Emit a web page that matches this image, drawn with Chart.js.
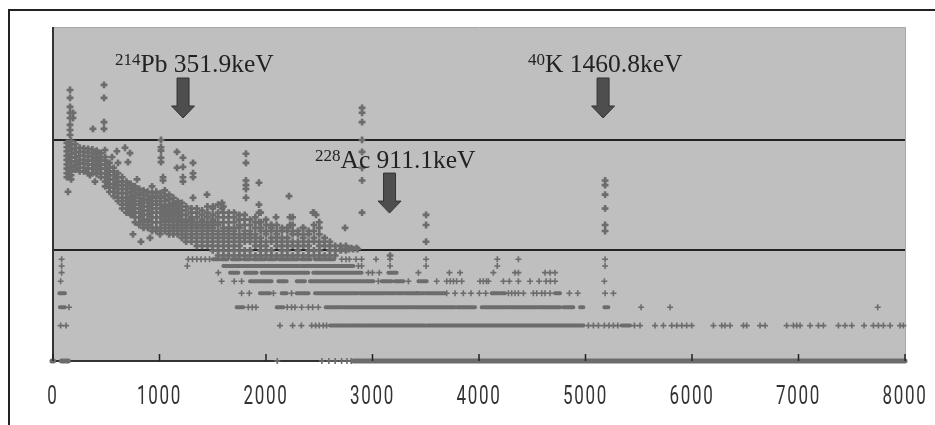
<!DOCTYPE html>
<html>
<head>
<meta charset="utf-8">
<title>gamma spectrum</title>
<script src="https://cdn.jsdelivr.net/npm/chart.js@4/dist/chart.umd.min.js"></script>
<style>
html, body { margin: 0; padding: 0; background: #fff; overflow: hidden; }
#frame { position: absolute; left: 8px; top: 9px; right: 0; bottom: 0; border-left: 2px solid #222; border-top: 2px solid #222; }
#chart { position: absolute; left: 0; top: 0; }
</style>
</head>
<body>
<canvas id="chart" width="935" height="425"></canvas>
<div id="frame"></div>
<script>
//axis
var xTicks = [0, 1000, 2000, 3000, 4000, 5000, 6000, 7000, 8000];
var gridValues = [10, 100];

//dense part of the spectrum, [channel, [counts...]]
var cloudColumns = [
    [130, [94, 86, 79, 72, 66, 60, 55, 50, 46]],
    [170, [98, 90, 82, 75, 69, 63, 57, 52, 48, 44]],
    [210, [92, 84, 77, 70, 64, 59, 54]],
    [250, [85, 78, 72, 66, 61, 56, 52]],
    [290, [84, 78, 72, 66, 61, 56, 52]],
    [330, [83, 77, 71, 65, 60, 55, 50]],
    [370, [82, 76, 70, 65, 60, 55, 50]],
    [410, [80, 74, 68, 63, 58, 53, 49]],
    [450, [76, 70, 65, 60, 55, 50, 46]],
    [490, [70, 65, 60, 55, 50, 46, 42, 38]],
    [530, [62, 57, 52, 48, 44, 40, 37, 34]],
    [570, [56, 52, 48, 44, 40, 37, 34, 31]],
    [610, [50, 46, 42, 39, 36, 33, 30, 28]],
    [650, [46, 42, 39, 36, 33, 30, 28, 26, 24]],
    [690, [42, 39, 36, 33, 30, 28, 26, 24, 22]],
    [730, [40, 37, 34, 31, 29, 27, 25, 23, 21]],
    [770, [38, 35, 32, 30, 28, 26, 24, 22, 20, 18]],
    [810, [36, 33, 30, 28, 26, 24, 22, 20, 18, 17]],
    [850, [35, 32, 29, 27, 25, 23, 21, 19, 18, 16]],
    [890, [34, 31, 29, 27, 25, 23, 21, 19, 17, 16]],
    [930, [33, 30, 28, 26, 24, 22, 20, 18, 16, 15]],
    [970, [34, 31, 28, 26, 24, 22, 20, 18, 16, 15]],
    [1010, [33, 30, 28, 26, 24, 22, 20, 18, 16, 15]],
    [1050, [35, 31, 28, 25, 23, 21, 19, 17, 15]],
    [1090, [32, 29, 26, 24, 22, 20, 18, 16, 15, 14]],
    [1130, [30, 27, 25, 23, 21, 19, 17, 16, 15, 14]],
    [1170, [28, 26, 24, 22, 20, 18, 17, 16, 15, 14]],
    [1210, [27, 25, 23, 21, 19, 18, 16, 15, 14, 13]],
    [1250, [25, 23, 21, 19, 18, 17, 16, 15, 14, 13, 12]],
    [1300, [24, 22, 20, 19, 18, 17, 16, 15, 14, 13, 12]],
    [1350, [24, 22, 20, 18, 17, 16, 15, 14, 13, 12, 11]],
    [1400, [23, 21, 19, 18, 17, 16, 15, 14, 13, 12, 11]],
    [1450, [25, 22, 20, 18, 17, 16, 15, 14, 13, 12, 11]],
    [1500, [24, 21, 19, 18, 17, 16, 15, 14, 13, 12, 11, 10]],
    [1550, [26, 22, 20, 18, 17, 15, 14, 13, 12, 11, 10, 9]],
    [1600, [25, 22, 20, 18, 16, 15, 14, 13, 12, 11, 10, 9]],
    [1650, [22, 20, 18, 16, 15, 14, 13, 12, 11, 10, 9]],
    [1700, [22, 20, 18, 16, 15, 14, 13, 12, 11, 10, 9]],
    [1750, [21, 19, 17, 16, 14, 13, 12, 11, 10, 9]],
    [1800, [21, 19, 17, 15, 14, 13, 12, 10, 9]],
    [1850, [19, 17, 15, 14, 13, 12, 10, 9]],
    [1900, [20, 18, 16, 14, 13, 12, 11, 9]],
    [1950, [22, 18, 16, 15, 13, 12, 11, 10, 9]],
    [2000, [19, 17, 15, 14, 12, 11, 10, 9]],
    [2050, [17, 16, 15, 13, 12, 10, 9]],
    [2100, [17, 15, 14, 13, 12, 11, 9]],
    [2150, [16, 15, 13, 12, 11, 10, 9]],
    [2200, [16, 15, 13, 12, 11, 10, 9]],
    [2250, [20, 17, 15, 14, 12, 11, 9]],
    [2300, [15, 14, 12, 11, 10, 9]],
    [2350, [16, 14, 13, 12, 11, 9]],
    [2400, [15, 14, 12, 11, 10, 9]],
    [2450, [22, 17, 15, 13, 12, 10, 9]],
    [2500, [18, 16, 14, 12, 11, 10, 9]],
    [2550, [13, 12, 11, 9]],
    [2600, [12, 11, 10, 9]],
    [2650, [11, 10, 9]],
    [2700, [11, 10]],
    [2750, [11, 10]],
    [2800, [10.5]],
    [2850, [10.5]]
];

//single points above the rows
var sparseX = [160, 160, 160, 160, 160, 160, 160, 160, 188, 188, 479, 479, 479, 479, 375, 1014, 1014, 1014, 1014, 1014, 1033, 1033,
    1164, 1164, 1220, 1220, 1220, 1220, 1315, 1315, 1315, 1446, 1315, 676, 723, 600, 554, 610, 704, 789, 930, 488, 347, 394, 141,
    751, 826, 911, 1005, 1812, 1812, 1812, 1812, 1812, 1812, 1934, 1934, 1934, 1934, 2216, 2094, 2441, 2470, 2742,
    2902, 2902, 2902, 2902, 2902, 2902, 2902, 2902, 1587, 1587, 1502, 2225, 2225, 2347, 2047,
    3503, 3503, 3503, 5184, 5184, 5184, 5184, 5184, 5184, 3165, 2710, 2750, 2780, 2820, 2860];
var sparseY = [283, 240, 199, 176, 158, 137, 123, 111, 176, 158, 315, 240, 145, 126, 126, 100, 86, 80, 69, 63, 46, 43,
    78, 56, 69, 57, 46, 42, 62, 50, 46, 32, 30, 85, 76, 79, 70, 62, 63, 44, 38, 81, 48, 42, 34,
    14, 12, 13, 14, 75, 62, 43, 39, 36, 30, 41, 26, 22, 18, 31, 20, 22, 21, 16,
    195, 176, 145, 100, 78, 56, 43, 22, 27, 24, 25, 20, 17, 16, 17,
    21, 17, 12, 43, 39, 32, 24, 17, 15, 9, 10.3, 10.3, 10.3, 10.3, 10.3];

//low count rows
var rowLevels = [1, 2.09, 3.06, 4.1, 5.26, 6.3, 7.24, 8.33];
//continuous stretches of each row [from, to]
var rowBands = [
    [[-10, 5], [80, 144], [2820, 8000]],
    [[2601, 2726], [2742, 2789], [2804, 2929], [2945, 3493], [3515, 4980], [5340, 5418]],
    [[65, 112], [1724, 1787], [2100, 2163], [2560, 2710], [2726, 3352], [3367, 3775], [3796, 3963], [4025, 4292], [4307, 4542], [4558, 4761], [4792, 4886], [4949, 4980], [5177, 5215]],
    [[59, 112], [1943, 2037], [2147, 2194], [2288, 2400], [2460, 2867], [2883, 3118], [3133, 3211], [3227, 3290], [3305, 3415], [3421, 3478], [3493, 3681], [4119, 4182], [4197, 4244], [4714, 4761]],
    [[1850, 1928], [1943, 2053], [2116, 2194], [2288, 2366], [2413, 2898], [2915, 3008], [3086, 3180], [3211, 3290], [3431, 3509]],
    [[1662, 1740], [1803, 1912], [1959, 2397], [2444, 2898], [3149, 3227]],
    [[1599, 1700], [1710, 2000], [2010, 2300], [2320, 2600], [2610, 2820]],
    [[1500, 1560], [1580, 1640], [1680, 1760], [1790, 1850], [1880, 1990], [2020, 2090], [2120, 2300], [2330, 2420], [2460, 2640]]
];
//isolated channels of each row
var rowPoints = [
    [2106, 2525, 2590, 2650, 2710, 2760, 2800],
    [72, 122, 2131, 2250, 2332, 2429, 2466, 2500, 2538, 2569, 5027, 5074, 5121, 5177, 5221, 5262, 5303, 5459, 5512, 5653, 5731, 5810, 5857, 5904, 5950, 5997, 6201, 6279, 6310, 6357, 6483, 6514, 6639, 6686, 6889, 6952, 6983, 7015, 7109, 7187, 7234, 7375, 7437, 7500, 7616, 7703, 7750, 7797, 7860, 7954, 7985],
    [150, 1834, 1871, 1906, 2200, 2240, 2272, 2335, 2398, 2438, 2491, 5522, 5794, 7744],
    [1771, 1843, 2070, 2240, 3697, 3775, 3853, 3925, 4003, 4063, 4276, 4307, 4338, 4370, 4417, 4510, 4542, 4589, 4620, 4667, 4849, 4927, 5184, 5262],
    [72, 1583, 1702, 1771, 3055, 3337, 3603, 3697, 3730, 3760, 3790, 3838, 4010, 4040, 4070, 4088, 4229, 4285, 4370, 4479, 4564, 4630, 4670, 4714, 5177],
    [81, 1552, 2961, 2999, 3064, 3431, 3722, 3822, 4135, 4338, 4370, 4620, 4667, 4714],
    [81, 1261, 2867, 2898, 3165, 3503, 4172, 5184],
    [81, 1270, 1310, 1350, 1390, 1430, 1470, 2711, 2751, 2783, 2845, 2898, 3033, 3165, 3503, 4172, 4370, 5184]
];

//labels and arrows
var noteMass = ['214', '228', '40'];
var noteText = ['Pb 351.9keV', 'Ac 911.1keV', 'K 1460.8keV'];
var noteX = [582, 2460, 4460];
var noteY = [412, 55.8, 412];
var arrowX = [1221, 3160, 5165];
var arrowY = [158, 21.8, 158];

var markColor = '#6c6c6c';

//組資料
function cloudData() {
    var out = [];
    cloudColumns.forEach(function (col) {
        col[1].forEach(function (v) {
            out.push({x: col[0], y: v});
        });
    });
    sparseX.forEach(function (x, i) {
        out.push({x: x, y: sparseY[i]});
    });
    return out;
}

function buildDatasets() {
    var sets = [{
        data: cloudData(),
        showLine: false,
        pointStyle: 'cross',
        pointRadius: 3.4,
        borderColor: markColor,
        pointBorderWidth: 2.6,
        clip: false
    }];
    rowLevels.forEach(function (level, i) {
        var line = [];
        rowBands[i].forEach(function (b) {
            line.push({x: b[0], y: level}, {x: b[1], y: level}, {x: b[1], y: null});
        });
        sets.push({
            data: line,
            showLine: true,
            spanGaps: false,
            pointRadius: 0,
            borderColor: markColor,
            borderWidth: i == 0 ? 5 : 4,
            borderCapStyle: 'round',
            clip: false
        });
        sets.push({
            data: rowPoints[i].map(function (x) { return {x: x, y: level}; }),
            showLine: false,
            pointStyle: 'cross',
            pointRadius: 3,
            borderColor: markColor,
            pointBorderWidth: 1.6,
            clip: false
        });
    });
    return sets;
}

//背景
var plotBack = {
    id: 'plotBack',
    beforeDraw: function (chart) {
        var a = chart.chartArea, c = chart.ctx;
        c.save();
        c.fillStyle = '#bfbfbf';
        c.fillRect(a.left, a.top, a.right - a.left, a.bottom - a.top);
        c.strokeStyle = '#a8a8a8';
        c.lineWidth = 1;
        c.beginPath();
        c.moveTo(a.left, a.top - 0.5);
        c.lineTo(a.right + 0.5, a.top - 0.5);
        c.lineTo(a.right + 0.5, a.bottom);
        c.stroke();
        c.restore();
    }
};

//箭頭跟文字
var notes = {
    id: 'notes',
    afterDraw: function (chart) {
        var c = chart.ctx, sx = chart.scales.x, sy = chart.scales.y;
        c.save();
        arrowX.forEach(function (v, i) {
            var tx = sx.getPixelForValue(v), ty = sy.getPixelForValue(arrowY[i]);
            c.beginPath();
            c.moveTo(tx, ty);
            c.lineTo(tx - 11.5, ty - 12);
            c.lineTo(tx - 6, ty - 12);
            c.lineTo(tx - 6, ty - 40);
            c.lineTo(tx + 6, ty - 40);
            c.lineTo(tx + 6, ty - 12);
            c.lineTo(tx + 11.5, ty - 12);
            c.closePath();
            c.fillStyle = '#4e4e4e';
            c.strokeStyle = '#333';
            c.lineWidth = 1;
            c.fill();
            c.stroke();
        });
        c.fillStyle = '#222';
        c.textBaseline = 'alphabetic';
        c.textAlign = 'left';
        noteText.forEach(function (t, i) {
            var px = sx.getPixelForValue(noteX[i]), py = sy.getPixelForValue(noteY[i]);
            c.font = '17px "Liberation Serif"';
            c.fillText(noteMass[i], px, py - 7);
            var w = c.measureText(noteMass[i]).width;
            c.font = '25.5px "Liberation Serif"';
            c.fillText(t, px + w, py);
        });
        //x軸刻度跟數字,窄體字
        c.strokeStyle = '#222';
        c.lineWidth = 1.5;
        c.fillStyle = '#333';
        c.textAlign = 'center';
        c.textBaseline = 'middle';
        c.font = '25px Roboto';
        c.letterSpacing = '2.5px';
        sx.ticks.forEach(function (tick) {
            var tx = sx.getPixelForValue(tick.value);
            c.beginPath();
            c.moveTo(tx, sy.bottom);
            c.lineTo(tx, sy.bottom - 7);
            c.stroke();
            c.save();
            c.translate(tx, 398);
            c.scale(0.68, 1);
            c.fillText(String(tick.value), 0, 0);
            c.restore();
        });
        c.restore();
    }
};

new Chart(document.getElementById('chart'), {
    type: 'scatter',
    data: { datasets: buildDatasets() },
    plugins: [plotBack, notes],
    options: {
        responsive: false,
        animation: false,
        layout: { padding: { left: 53, top: 28, right: 30, bottom: 0 } },
        plugins: { legend: { display: false }, tooltip: { enabled: false } },
        scales: {
            x: {
                type: 'linear',
                min: 0,
                max: 8000,
                afterFit: function (s) { s.height = 64; s.paddingLeft = 0; s.paddingRight = 0; },
                afterBuildTicks: function (s) {
                    s.ticks = xTicks.map(function (v) { return {value: v}; });
                },
                grid: { display: false },
                border: { color: '#333', width: 2 },
                ticks: { display: false }
            },
            y: {
                type: 'logarithmic',
                min: 1,
                max: 1030,
                afterFit: function (s) { s.width = 0; },
                afterBuildTicks: function (s) {
                    s.ticks = gridValues.map(function (v) { return {value: v}; });
                },
                grid: { color: '#222', lineWidth: 2, drawTicks: false },
                border: { color: '#333', width: 2 },
                ticks: { display: false }
            }
        }
    }
});
</script>
</body>
</html>
